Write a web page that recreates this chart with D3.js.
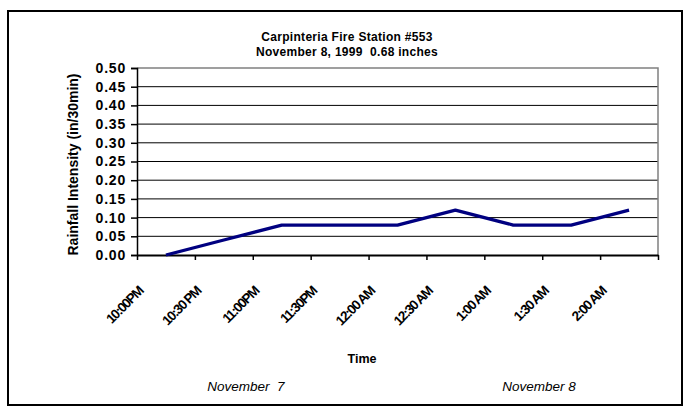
<!DOCTYPE html>
<html>
<head>
<meta charset="utf-8">
<script src="https://cdn.jsdelivr.net/npm/d3@7"></script>
<style>
  html, body { margin: 0; padding: 0; background: #fff; }
  svg text { font-family: Arial, "Liberation Sans", sans-serif; }
</style>
</head>
<body>
<div id="chart"></div>
<script>
'use strict';

// Chart values
const categories = ['10:00PM', '10:30 PM', '11:00PM', '11:30PM', '12:00 AM', '12:30 AM', '1:00 AM', '1:30 AM', '2:00 AM'];
const intensity = [0.00, 0.04, 0.08, 0.08, 0.08, 0.12, 0.08, 0.08, 0.12];
const yTicks = [0.00, 0.05, 0.10, 0.15, 0.20, 0.25, 0.30, 0.35, 0.40, 0.45, 0.50];
const titleLines = ['Carpinteria Fire Station #553', 'November 8, 1999  0.68 inches'];
const dayLabels = ['November  7', 'November 8'];

const width = 686;
const height = 413;
const plot = { left: 137, right: 658, top: 68, bottom: 255 };

const svg = d3.select('#chart').append('svg')
  .attr('width', width)
  .attr('height', height);

// Outer chart frame
svg.append('rect')
  .attr('x', 8)
  .attr('y', 11)
  .attr('width', 674)
  .attr('height', 394)
  .attr('fill', '#fff')
  .attr('stroke', '#000')
  .attr('stroke-width', 2);

// Scales
const x = d3.scaleBand()
  .domain(categories)
  .range([plot.left, plot.right])
  .padding(0);
const xEdge = d3.scaleLinear() // category boundaries, used for the tick marks
  .domain([0, categories.length])
  .range([plot.left, plot.right]);
const y = d3.scaleLinear()
  .domain([0, 0.5])
  .range([plot.bottom, plot.top]);

// Horizontal gridlines
svg.append('g')
  .selectAll('line')
  .data(yTicks.filter(d => d > 0 && d < 0.5))
  .enter().append('line')
  .attr('x1', plot.left)
  .attr('x2', plot.right)
  .attr('y1', d => y(d))
  .attr('y2', d => y(d))
  .attr('stroke', '#000')
  .attr('stroke-width', 1);

// Plot area border (top and right sides are grey)
svg.append('path')
  .attr('d', `M${plot.left},${y(0.5)}H${plot.right}V${plot.bottom}`)
  .attr('fill', 'none')
  .attr('stroke', '#808080')
  .attr('stroke-width', 1.5);

// Y axis
const yAxis = svg.append('g')
  .attr('transform', `translate(${plot.left},0)`)
  .call(d3.axisLeft(y)
    .tickValues(yTicks)
    .tickSize(6)
    .tickPadding(5)
    .tickFormat(d3.format('.2f')));
yAxis.select('.domain').attr('stroke', '#000').attr('stroke-width', 1.5);
yAxis.selectAll('.tick line').attr('stroke', '#000').attr('stroke-width', 1.5);
yAxis.selectAll('.tick text')
  .attr('fill', '#000')
  .style('font-size', '14px')
  .style('font-weight', 'bold')
  .style('letter-spacing', '0.8px');

// X axis - ticks sit on category boundaries, labels are drawn separately
const xAxis = svg.append('g')
  .attr('transform', `translate(0,${plot.bottom})`)
  .call(d3.axisBottom(xEdge)
    .tickValues(d3.range(categories.length + 1))
    .tickSize(5)
    .tickSizeOuter(0)
    .tickFormat(''));
xAxis.select('.domain').attr('stroke', '#000').attr('stroke-width', 2);
xAxis.selectAll('.tick line').attr('stroke', '#000').attr('stroke-width', 1.5);

// Rotated category labels (squeezed like the original)
svg.append('g')
  .selectAll('text')
  .data(categories)
  .enter().append('text')
  .attr('transform', d => `translate(${x(d) + x.bandwidth() / 2 - 22},${plot.bottom + 37}) rotate(-45)`)
  .attr('text-anchor', 'end')
  .style('font-size', '13.5px')
  .style('font-weight', 'bold')
  .style('letter-spacing', '-1.3px')
  .text(d => d);

// Data line
const line = d3.line()
  .x((d, i) => x(categories[i]) + x.bandwidth() / 2)
  .y(d => y(d));
svg.append('path')
  .datum(intensity)
  .attr('d', line)
  .attr('fill', 'none')
  .attr('stroke', '#000080')
  .attr('stroke-width', 3.2)
  .attr('stroke-linejoin', 'round');

// Title
svg.append('g')
  .selectAll('text')
  .data(titleLines)
  .enter().append('text')
  .attr('x', 347)
  .attr('y', (d, i) => 41 + i * 15)
  .attr('text-anchor', 'middle')
  .style('font-size', '12px')
  .style('font-weight', 'bold')
  .style('letter-spacing', '0.3px')
  .style('white-space', 'pre')
  .text(d => d);

// Axis titles
svg.append('text')
  .attr('transform', `translate(78,${(plot.top + plot.bottom) / 2 + 3}) rotate(-90)`)
  .attr('text-anchor', 'middle')
  .style('font-size', '14px')
  .style('font-weight', 'bold')
  .text('Rainfall Intensity (in/30min)');

svg.append('text')
  .attr('x', 362)
  .attr('y', 363)
  .attr('text-anchor', 'middle')
  .style('font-size', '12.5px')
  .style('font-weight', 'bold')
  .text('Time');

// Day labels under the time axis
svg.append('g')
  .selectAll('text')
  .data(dayLabels)
  .enter().append('text')
  .attr('x', (d, i) => [246, 539][i])
  .attr('y', 391)
  .attr('text-anchor', 'middle')
  .style('font-size', '13.5px')
  .style('font-style', 'italic')
  .style('white-space', 'pre')
  .text(d => d);
</script>
</body>
</html>
